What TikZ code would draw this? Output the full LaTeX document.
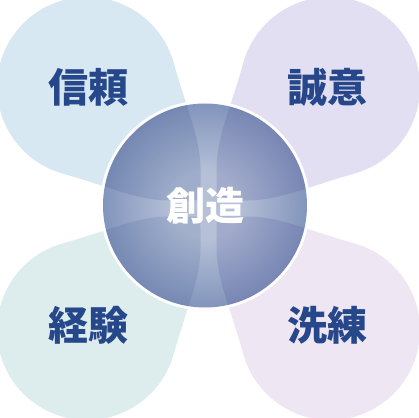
\documentclass[tikz,border=0pt]{standalone}
\usepackage{fontspec}
\newfontfamily\jpfont{Noto Sans CJK JP}

\definecolor{trustblue}{HTML}{D8E8F2}
\definecolor{sincerelilac}{HTML}{E2DFF2}
\definecolor{expteal}{HTML}{DDEDED}
\definecolor{refinepink}{HTML}{EEE6F2}
\definecolor{labelnavy}{HTML}{26478A}
\definecolor{coreedge}{HTML}{5C71A2}
\definecolor{coremid}{HTML}{7F92BA}
\definecolor{corelight}{HTML}{B6C1D8}
\definecolor{tintblue}{HTML}{2E4A86}
\definecolor{tintviolet}{HTML}{433E8E}
\pgfdeclareradialshading{coreball}{\pgfpoint{0bp}{0bp}}{color(0bp)=(corelight); color(8bp)=(corelight); color(26bp)=(coremid); color(50bp)=(coreedge)}

% one petal, top left; the others are mirrored
\newcommand{\petalshape}{(-144.8,34.6) arc[start angle=255, end angle=15, radius=90]
  .. controls (-22,100) and (-8,70) .. (-8,40) -- (-8,20) .. controls (-8,8) .. (-20,8)
  -- (-40,8) .. controls (-70,8) and (-100,22) .. cycle}

\begin{document}
\begin{tikzpicture}[x=1pt, y=1pt,
    word/.style={text=labelnavy, font=\jpfont\bfseries\fontsize{40}{44}\selectfont, inner sep=0pt},
    coreword/.style={text=white, font=\jpfont\bfseries\fontsize{39}{44}\selectfont, inner sep=0pt}]
    \useasboundingbox (-208.5,-208.5) rectangle (210.5,208.5);

    % petals
    \fill[trustblue] \petalshape;
    \begin{scope}[xscale=-1]
        \fill[sincerelilac] \petalshape;
    \end{scope}
    \begin{scope}[yscale=-1]
        \fill[expteal] \petalshape;
    \end{scope}
    \begin{scope}[xscale=-1, yscale=-1]
        \fill[refinepink] \petalshape;
    \end{scope}

    % centre disc
    \coordinate (hub) at (-3.5,3);
    \fill[white!97!trustblue] (hub) circle (105);
    \shade[shading=coreball] (hub) circle (102);
    \begin{scope}
        \clip (hub) circle (102);
        \fill[tintblue, opacity=0.16] \petalshape;
        \begin{scope}[xscale=-1]
            \fill[tintviolet, opacity=0.16] \petalshape;
        \end{scope}
        \begin{scope}[yscale=-1]
            \fill[tintblue, opacity=0.14] \petalshape;
        \end{scope}
        \begin{scope}[xscale=-1, yscale=-1]
            \fill[tintviolet, opacity=0.16] \petalshape;
        \end{scope}
    \end{scope}

    \node[word] (trust) at (-120,121.5) {信頼};
    \node[word] (sincerity) at (119,121.5) {誠意};
    \node[word] (experience) at (-120,-117) {経験};
    \node[word] (refinement) at (119,-117) {洗練};
    \node[coreword] (creation) at (hub) {創造};
\end{tikzpicture}
\end{document}
